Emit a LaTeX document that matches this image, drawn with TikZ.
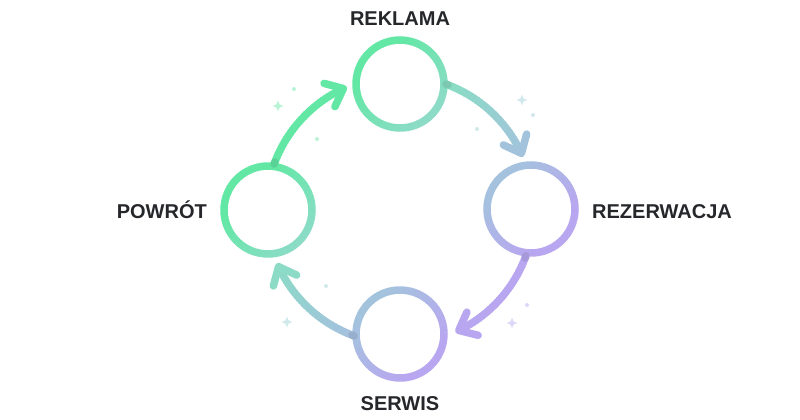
\documentclass[tikz,border=0pt]{standalone}
\usepackage{fontspec}
\setmainfont{Liberation Sans}
\usetikzlibrary{calc}
\definecolor{labelc}{HTML}{25272A}
% global diagonal gradient: colour as a function of t = x + y (pixels)
\newcommand\setgc[1]{%
  \pgfmathsetmacro\gcSa{min(max((#1-440)/100,0),1)}%
  \pgfmathsetmacro\gcSb{min(max((#1-540)/150,0),1)}%
  \pgfmathsetmacro\gcSc{min(max((#1-690)/95,0),1)}%
  \pgfmathsetmacro\gcR{(98+40*\gcSa+28*\gcSb+18*\gcSc)/255}%
  \pgfmathsetmacro\gcG{(232-12*\gcSa-28*\gcSb-26*\gcSc)/255}%
  \pgfmathsetmacro\gcBl{(164+33*\gcSa+27*\gcSb+16*\gcSc)/255}%
  \definecolor{gc}{rgb}{\gcR,\gcG,\gcBl}}
\newcommand\gradring[1]{% named centre
  \path (#1); \pgfgetlastxy{\rcx}{\rcy}%
  \pgfmathsetmacro\rcx{\rcx/1pt}\pgfmathsetmacro\rcy{-\rcy/1pt}%
  \foreach \ang in {0,5,...,355}{%
    \pgfmathsetmacro\tv{\rcx+\rcy+44*cos(\ang+2.5)+44*sin(\ang+2.5)}%
    \setgc{\tv}%
    \draw[gc, line width=7.5] (#1) ++(\ang:44) arc[start angle=\ang, end angle=\ang+5.6, radius=44];
  }}
\newcommand\gradarrow[3]{% start angle, end angle, tip name
  \pgfmathsetmacro\stp{(#2-#1)/30}%
  \foreach \k in {0,...,29}{%
    \pgfmathsetmacro\angA{#1+\k*\stp}%
    \pgfmathsetmacro\angB{min(\angA+\stp*1.25,#2)}%
    \pgfmathsetmacro\tv{610+134*cos(\angA+\stp/2)+134*sin(\angA+\stp/2)}%
    \setgc{\tv}%
    \draw[gc, line width=7.5] (O) ++(\angA:134) arc[start angle=\angA, end angle=\angB, radius=134];
  }%
  \pgfmathsetmacro\tv{610+134*cos(#1)+134*sin(#1)}\setgc{\tv}%
  \draw[gc!91!black, line width=7.5, line cap=round] (O) ++(#1:134) arc[start angle=#1, end angle=#1+1, radius=134];
  \coordinate (#3) at ($(O)+(#2:134)$);
  \pgfmathsetmacro\tv{610+134*cos(#2)+134*sin(#2)}\setgc{\tv}%
  \draw[gc, line width=7.5, line cap=round, line join=round] ($(#3)+(#2-50:20)$) -- (#3) -- ($(#3)+(#2-130:20)$);
}
\newcommand\sparkle[3]{% x y size
  \pgfmathsetmacro\tv{#1+#2}\setgc{\tv}%
  \fill[gc!45!white] (#1,#2-#3) .. controls (#1+0.24*#3,#2-0.24*#3) .. (#1+#3,#2)
     .. controls (#1+0.24*#3,#2+0.24*#3) .. (#1,#2+#3)
     .. controls (#1-0.24*#3,#2+0.24*#3) .. (#1-#3,#2)
     .. controls (#1-0.24*#3,#2-0.24*#3) .. cycle;}
\newcommand\sdot[2]{% x y
  \pgfmathsetmacro\tv{#1+#2}\setgc{\tv}%
  \fill[gc!45!white] (#1,#2) circle[radius=2];}
\tikzset{lbl/.style={font=\bfseries\fontsize{20}{24}\selectfont, text=labelc, inner sep=0pt}}
\begin{document}
\begin{tikzpicture}[x=1pt,y=-1pt]
  \fill[white] (0,0) rectangle (800,420);
  \useasboundingbox (0,0) rectangle (800,420);
  \coordinate (O) at (400,210);
  \coordinate (reklama) at (400,84);
  \coordinate (rezerwacja) at (531,209);
  \coordinate (serwis) at (400,334);
  \coordinate (powrot) at (268,210);
  % sparkles and dots
  \sparkle{278}{106}{5.5}
  \sparkle{522}{100}{5.5}
  \sparkle{512}{323}{5.5}
  \sparkle{287}{322}{5.5}
  \sdot{294}{89}
  \sdot{317}{139}
  \sdot{477}{129}
  \sdot{533}{115}
  \sdot{527}{305}
  \sdot{326}{286}
  % rings
  \gradring{reklama}
  \gradring{rezerwacja}
  \gradring{serwis}
  \gradring{powrot}
  % arrows (clockwise)
  \gradarrow{-160}{-115}{tipA}
  \gradarrow{-70}{-25}{tipB}
  \gradarrow{20}{64}{tipC}
  \gradarrow{110}{155}{tipD}
  % labels
  \node[lbl, anchor=base] (lreklama) at (400,26) {REKLAMA};
  \node[lbl, anchor=base west] (lrezerwacja) at (592,218) {REZERWACJA};
  \node[lbl, anchor=base east] (lpowrot) at (207,218) {POWRÓT};
  \node[lbl, anchor=base] (lserwis) at (400,410) {SERWIS};
\end{tikzpicture}
\end{document}
